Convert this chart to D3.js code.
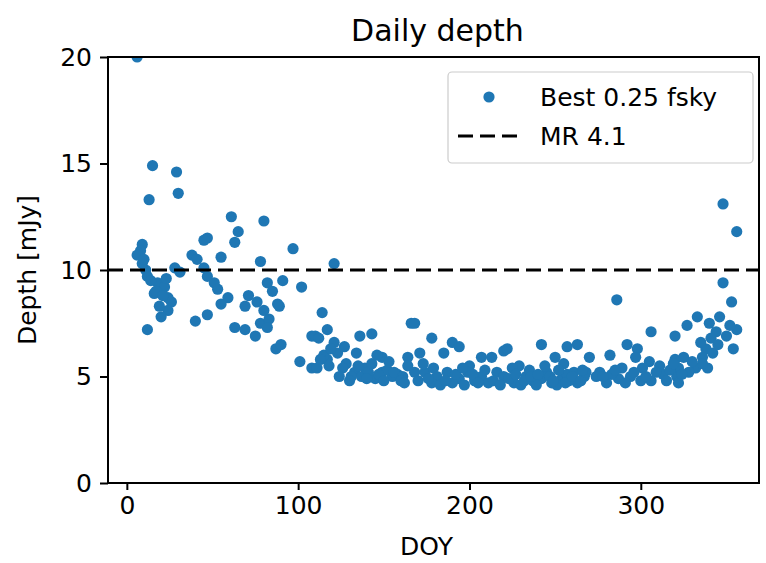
<!DOCTYPE html>
<html>
<head>
<meta charset="utf-8">
<script src="https://cdn.jsdelivr.net/npm/d3@7"></script>
<style>
  html, body { margin: 0; padding: 0; background: #fff; }
  svg { display: block; font-family: "DejaVu Sans", sans-serif; }
</style>
</head>
<body>
<svg id="chart" width="766" height="563"></svg>
<script>
// ---- data ----
const doy = [
  6, 15, 13, 29, 30, 61, 80, 65, 63, 47, 45, 9, 8, 6, 38, 41, 55, 78, 9, 11,
  28, 31, 12, 45, 47, 18, 22, 16, 24, 51, 53, 59, 26, 24, 20, 55, 71, 69, 76, 80,
  12, 40, 47, 63, 69, 75, 78, 97, 82, 91, 102, 85, 89, 83, 82, 87, 90, 101, 108, 108,
  121, 88, 114, 117, 110, 112, 136, 143, 121, 123, 117, 111, 128, 133, 139, 149, 149, 158, 164, 166,
  137, 126, 131, 155, 115, 127, 118, 124, 145, 152, 141, 119, 113,
  14, 17, 21, 19, 23, 10,
  130, 135, 140, 143, 147, 150, 153, 156, 161, 134, 146,
  168, 178, 190, 194, 171, 185, 220, 207, 213, 229, 200, 168, 174, 181, 187, 194, 199, 207, 211, 216,
  220, 226, 230, 237, 242, 245, 248, 254, 257, 261, 263, 178, 190, 170, 242, 257, 263, 250, 222, 270,
  160, 164, 183, 197, 203, 233, 239, 251, 258, 267, 173, 235, 244, 255, 225,
  162, 176, 179, 186, 192, 196, 202, 205, 209, 214, 218, 223, 227, 232, 236, 240, 247, 249, 252, 256,
  260, 265, 268,
  286, 348, 356, 348, 353, 346, 333, 327, 340, 306, 320, 356, 344, 350, 354, 338, 292, 298, 282, 305,
  297, 320, 325, 336, 342, 289, 301, 311, 322, 332, 339, 287, 306, 321, 322, 276, 274, 266, 283, 294,
  300, 313, 328, 336, 280, 317,
  278, 285, 291, 296, 303, 309, 315, 319, 324, 330, 335, 341, 345, 352
];
const depth = [
  20.0, 14.9, 13.3, 14.6, 13.6, 12.5, 12.3, 11.8, 11.3, 11.5, 11.4, 11.2, 10.9, 10.7, 10.7, 10.5, 10.6, 10.4, 10.3, 10.0,
  10.1, 9.9, 9.7, 10.1, 9.7, 9.4, 9.2, 8.9, 8.7, 9.4, 9.1, 8.7, 8.5, 8.1, 7.8, 8.4, 8.8, 8.3, 8.5, 8.1,
  7.2, 7.6, 7.9, 7.3, 7.2, 6.9, 7.5, 11.0, 9.4, 9.5, 9.2, 9.0, 8.3, 7.7, 7.3, 6.3, 6.5, 5.7, 6.9, 5.4,
  10.3, 8.4, 8.0, 7.2, 6.9, 6.8, 6.9, 7.0, 6.6, 6.1, 5.8, 5.4, 5.6, 5.2, 5.4, 5.9, 5.2, 5.1, 5.9, 7.5,
  5.0, 5.4, 5.0, 5.0, 6.0, 6.4, 5.5, 5.0, 4.9, 5.3, 5.2, 6.3, 5.8,
  9.5, 9.0, 8.8, 8.3, 9.6, 10.5,
  4.8, 5.5, 4.9, 5.6, 5.1, 4.8, 5.7, 5.2, 5.0, 6.1, 6.0,
  7.5, 6.8, 6.6, 6.4, 6.1, 6.1, 6.2, 5.9, 5.9, 5.5, 5.5, 5.2, 5.2, 5.0, 5.2, 4.9, 5.2, 5.0, 4.7, 5.2,
  5.0, 4.7, 4.6, 4.8, 4.9, 5.2, 4.7, 4.9, 5.1, 5.2, 4.7, 4.7, 4.7, 4.8, 6.5, 6.4, 6.5, 5.9, 6.3, 5.9,
  4.8, 5.5, 4.6, 4.6, 4.8, 5.0, 4.6, 4.6, 4.8, 5.0, 5.6, 5.3, 5.5, 5.6, 5.4,
  4.7, 4.9, 5.4, 4.8, 5.1, 5.4, 5.1, 4.7, 5.3, 4.8, 4.6, 4.9, 5.1, 4.8, 5.0, 5.1, 5.0, 4.8, 5.3, 4.7,
  5.0, 4.8, 5.2,
  8.6, 13.1, 11.8, 9.4, 8.5, 7.8, 7.8, 7.4, 7.5, 7.1, 6.9, 7.2, 7.1, 6.9, 6.3, 6.3, 6.5, 6.3, 6.0, 5.7,
  5.9, 5.8, 5.9, 5.9, 6.1, 5.4, 5.4, 5.5, 5.4, 5.4, 5.4, 4.9, 4.8, 5.0, 4.7, 5.2, 5.0, 5.3, 5.1, 5.0,
  4.8, 5.1, 5.2, 5.6, 4.7, 5.3,
  5.0, 5.3, 4.7, 5.2, 5.0, 5.2, 4.8, 5.6, 5.1, 5.7, 6.6, 6.8, 6.5, 7.4
];
const refLevel = 10;          // MR 4.1 reference depth
const xTicks = [0, 100, 200, 300];
const yTicks = [0, 5, 10, 15, 20];
const seriesNames = ["Best 0.25 fsky", "MR 4.1"];
const titleText = "Daily depth";
const xLabel = "DOY";
const yLabel = "Depth [mJy]";

// ---- layout ----
const svg = d3.select("#chart");
const L = 108, R = 759, T = 57, B = 483;
const blue = "#1f77b4";

const x = d3.scaleLinear().domain([-11, 369]).range([L, R]);
const y = d3.scaleLinear().domain([0, 20]).range([B, T]);

const clipId = "plotclip";
svg.append("defs").append("clipPath").attr("id", clipId)
  .append("rect").attr("x", L).attr("y", T).attr("width", R - L).attr("height", B - T);

// points
const pts = doy.map((d, i) => ({ x: d, y: depth[i] }));
svg.append("g").attr("clip-path", `url(#${clipId})`)
  .selectAll("circle").data(pts).join("circle")
  .attr("cx", d => x(d.x)).attr("cy", d => y(d.y))
  .attr("r", 5.6).attr("fill", blue);

// reference line
svg.append("line")
  .attr("x1", L).attr("x2", R).attr("y1", y(refLevel)).attr("y2", y(refLevel))
  .attr("stroke", "#000").attr("stroke-width", 3.2).attr("stroke-dasharray", "15,7");

// axes
const fontTick = 25;
const xAxis = d3.axisBottom(x).tickValues(xTicks).tickSize(7).tickPadding(6);
const yAxis = d3.axisLeft(y).tickValues(yTicks).tickSize(8).tickPadding(8);
const gx = svg.append("g").attr("transform", `translate(0,${B})`).call(xAxis);
const gy = svg.append("g").attr("transform", `translate(${L},0)`).call(yAxis);
[gx, gy].forEach(g => {
  g.select(".domain").remove();
  g.selectAll(".tick line").attr("stroke", "#000").attr("stroke-width", 2);
  g.selectAll(".tick text").attr("fill", "#000").style("font-size", fontTick + "px")
    .style("font-family", "DejaVu Sans, sans-serif");
});

// spines
svg.append("rect").attr("x", L).attr("y", T).attr("width", R - L).attr("height", B - T)
  .attr("fill", "none").attr("stroke", "#000").attr("stroke-width", 2);

// title & labels
svg.append("text").attr("x", (L + R) / 2 + 4).attr("y", 41).attr("text-anchor", "middle")
  .style("font-size", "30px").text(titleText);
svg.append("text").attr("x", (L + R) / 2 - 7).attr("y", 555).attr("text-anchor", "middle")
  .style("font-size", "25px").text(xLabel);
svg.append("text").attr("transform", `translate(36,${(T + B) / 2}) rotate(-90)`)
  .attr("text-anchor", "middle").style("font-size", "25px").text(yLabel);

// legend
const lg = svg.append("g");
lg.append("rect").attr("x", 448).attr("y", 72).attr("width", 305).attr("height", 91).attr("rx", 4)
  .attr("fill", "#fff").attr("fill-opacity", 0.8).attr("stroke", "#ccc").attr("stroke-width", 1.2);
lg.append("circle").attr("cx", 489).attr("cy", 97).attr("r", 5.6).attr("fill", blue);
lg.append("line").attr("x1", 458).attr("x2", 520).attr("y1", 136).attr("y2", 136)
  .attr("stroke", "#000").attr("stroke-width", 3.2).attr("stroke-dasharray", "15,7");
lg.append("text").attr("x", 540).attr("y", 106).style("font-size", "25px").text(seriesNames[0]);
lg.append("text").attr("x", 540).attr("y", 145).style("font-size", "25px").text(seriesNames[1]);
</script>
</body>
</html>
